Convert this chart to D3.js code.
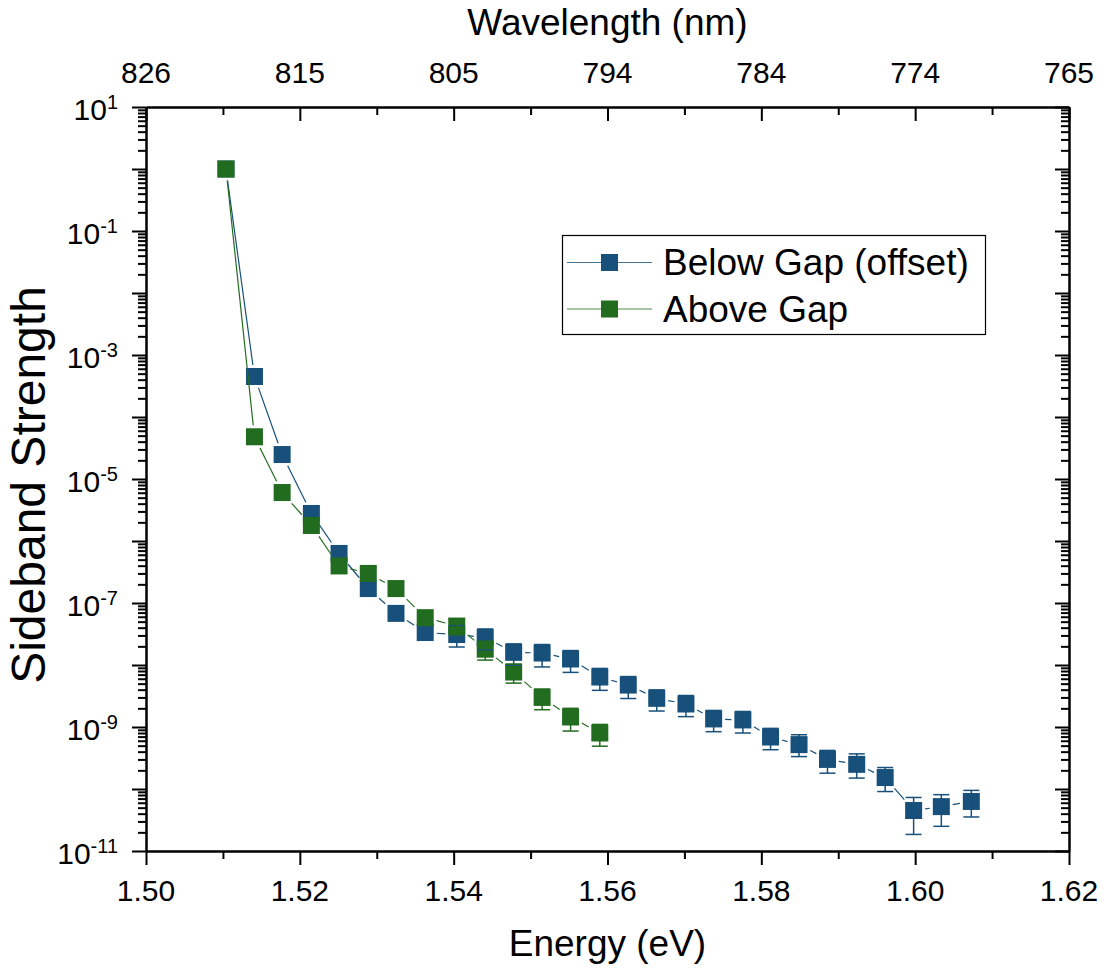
<!DOCTYPE html>
<html><head><meta charset="utf-8">
<script src="https://cdn.jsdelivr.net/npm/d3@7"></script>
<style>
body{margin:0;background:#fff}
svg{display:block}
text{font-family:"Liberation Sans",Arial,Helvetica,sans-serif;fill:#000}
</style>
</head><body>
<svg id="c" width="1112" height="970"></svg>
<script>
// ---------- data ----------
const energy = [1.5104,1.5141,1.5177,1.5215,1.5251,1.5289,1.5325,1.5363,1.5404,1.5441,1.5478,1.5515,1.5552,1.5590,
                1.5627,1.5664,1.5702,1.5738,1.5776,1.5812,1.5849,1.5886,1.5924,1.5961,1.5998,1.6034,1.6073];
const belowGap = [1.0,4.5e-4,2.48e-5,2.78e-6,6.3e-7,1.71e-7,6.8e-8,3.34e-8,3.1e-8,2.78e-8,1.6e-8,1.56e-8,1.25e-8,6.4e-9,
                  4.75e-9,2.9e-9,2.35e-9,1.35e-9,1.3e-9,6.9e-10,5.2e-10,3.0e-10,2.5e-10,1.53e-10,4.5e-11,5.2e-11,6.3e-11];
const belowErrPlus = [null,null,null,null,null,null,null,null,1.23e-8,1.03e-8,5.9e-9,5.8e-9,4.6e-9,2.4e-9,
                      1.76e-9,1.07e-9,8.7e-10,5.0e-10,4.8e-10,2.6e-10,2.3e-10,1.19e-10,1.19e-10,6.9e-11,2.8e-11,2.9e-11,3.2e-11];
const belowErrMinus = [null,null,null,null,null,null,null,null,1.15e-8,1.03e-8,6.1e-9,6.3e-9,4.9e-9,2.5e-9,
                       1.87e-9,1.09e-9,8.8e-10,5.1e-10,5.0e-10,2.6e-10,1.87e-10,1.2e-10,1.0e-10,6.2e-11,2.65e-11,2.7e-11,2.76e-11];
const aboveGap = [1.0,4.8e-5,6.05e-6,1.78e-6,3.96e-7,3.0e-7,1.71e-7,5.8e-8,4.25e-8,1.8e-8,7.7e-9,3.0e-9,1.45e-9,8.0e-10];
const aboveErrPlus = [null,null,null,null,null,null,null,null,1.26e-8,6.0e-9,2.6e-9,1.1e-9,5.5e-10,3.0e-10];
const aboveErrMinus = [null,null,null,null,null,null,null,null,1.2e-8,6.0e-9,2.6e-9,1.1e-9,5.9e-10,3.1e-10];

const xMajorTicks = [1.50,1.52,1.54,1.56,1.58,1.60,1.62];
const xMinorTicks = [1.51,1.53,1.55,1.57,1.59,1.61];
const xTickLabels = ["1.50","1.52","1.54","1.56","1.58","1.60","1.62"];
const wavelengthTickLabels = ["826","815","805","794","784","774","765"];
const yLabelExponents = [1,-1,-3,-5,-7,-9,-11];
const seriesNames = ["Below Gap (offset)","Above Gap"];
const seriesColors = ["#17507a","#226c1f"];
const xTitle = "Energy (eV)";
const x2Title = "Wavelength (nm)";
const yTitle = "Sideband Strength";

// ---------- layout ----------
const L = 146, R = 1069, T = 107, B = 851;
const svg = d3.select("#c");
const x = d3.scaleLinear().domain([1.50,1.62]).range([L,R]);
const y = d3.scaleLog().domain([1e-11,1e1]).range([B,T]);

const decades = d3.range(-11,2).map(e => Math.pow(10,e));
const minorY = [];
for (let e=-11; e<1; e++) for (let k=2;k<=9;k++) minorY.push(k*Math.pow(10,e));

function styleAxis(g){
  g.selectAll("path.domain").attr("stroke","#000").attr("stroke-width",2);
  g.selectAll(".tick line").attr("stroke","#000").attr("stroke-width",2);
  g.selectAll(".tick text").remove();
}

// bottom axis (outward ticks)
svg.append("g").attr("transform",`translate(0,${B})`)
  .call(d3.axisBottom(x).tickValues(xMajorTicks).tickSize(14).tickSizeOuter(0).tickFormat("")).call(styleAxis);
svg.append("g").attr("transform",`translate(0,${B})`)
  .call(d3.axisBottom(x).tickValues(xMinorTicks).tickSize(8).tickSizeOuter(0).tickFormat("")).call(styleAxis);
// top axis (inward ticks)
svg.append("g").attr("transform",`translate(0,${T})`)
  .call(d3.axisTop(x).tickValues(xMajorTicks).tickSize(-14).tickSizeOuter(0).tickFormat("")).call(styleAxis);
svg.append("g").attr("transform",`translate(0,${T})`)
  .call(d3.axisTop(x).tickValues(xMinorTicks).tickSize(-8).tickSizeOuter(0).tickFormat("")).call(styleAxis);
// left axis (outward)
svg.append("g").attr("transform",`translate(${L},0)`)
  .call(d3.axisLeft(y).tickValues(decades).tickSize(14).tickSizeOuter(0).tickFormat("")).call(styleAxis);
svg.append("g").attr("transform",`translate(${L},0)`)
  .call(d3.axisLeft(y).tickValues(minorY).tickSize(8).tickSizeOuter(0).tickFormat("")).call(styleAxis);
// right axis (inward)
svg.append("g").attr("transform",`translate(${R},0)`)
  .call(d3.axisRight(y).tickValues(decades).tickSize(-14).tickSizeOuter(0).tickFormat("")).call(styleAxis);
svg.append("g").attr("transform",`translate(${R},0)`)
  .call(d3.axisRight(y).tickValues(minorY).tickSize(-8).tickSizeOuter(0).tickFormat("")).call(styleAxis);

// tick labels
svg.append("g").selectAll("text").data(xMajorTicks).join("text")
  .attr("x",d=>x(d)).attr("y",B+50).attr("text-anchor","middle").attr("font-size",30)
  .text((d,i)=>xTickLabels[i]);
svg.append("g").selectAll("text").data(xMajorTicks).join("text")
  .attr("x",d=>x(d)).attr("y",T-24).attr("text-anchor","middle").attr("font-size",30)
  .text((d,i)=>wavelengthTickLabels[i]);
const yl = svg.append("g").selectAll("text").data(yLabelExponents).join("text")
  .attr("x",118).attr("y",d=>y(Math.pow(10,d))+13).attr("text-anchor","end").attr("font-size",30);
yl.append("tspan").text("10");
yl.append("tspan").attr("font-size",20).attr("dy",-11).text(d=>String(d));

// titles
svg.append("text").attr("x",(L+R)/2).attr("y",956).attr("text-anchor","middle").attr("font-size",37).text(xTitle);
svg.append("text").attr("x",(L+R)/2).attr("y",35).attr("text-anchor","middle").attr("font-size",37).text(x2Title);
svg.append("text").attr("transform",`translate(45,485) rotate(-90)`).attr("text-anchor","middle").attr("font-size",48).text(yTitle);

// ---------- series ----------
const H = 8.5, GAP = 3;
function gappedSegments(pts){
  const segs = [];
  for (let i=0;i<pts.length-1;i++){
    const [x0,y0]=pts[i],[x1,y1]=pts[i+1];
    const dx=x1-x0, dy=y1-y0, len=Math.hypot(dx,dy);
    const ux=dx/len, uy=dy/len;
    const edge = H/Math.max(Math.abs(ux),Math.abs(uy)) + GAP;
    if (len > 2*edge) segs.push([x0+ux*edge,y0+uy*edge,x1-ux*edge,y1-uy*edge]);
  }
  return segs;
}
const series = [
  {vals:belowGap, ep:belowErrPlus, em:belowErrMinus, color:seriesColors[0]},
  {vals:aboveGap, ep:aboveErrPlus, em:aboveErrMinus, color:seriesColors[1]}
];
series.forEach(s=>{
  const pts = s.vals.map((v,i)=>[x(energy[i]),y(v)]);
  const g = svg.append("g");
  g.selectAll("line").data(gappedSegments(pts)).join("line")
    .attr("x1",d=>d[0]).attr("y1",d=>d[1]).attr("x2",d=>d[2]).attr("y2",d=>d[3])
    .attr("stroke",s.color).attr("stroke-width",1.2);
  g.selectAll("rect").data(pts).join("rect")
    .attr("x",d=>d[0]-H).attr("y",d=>d[1]-H).attr("width",2*H).attr("height",2*H).attr("fill",s.color);
});
series.forEach(s=>{
  const g = svg.append("g").attr("stroke",s.color).attr("stroke-width",1.5);
  s.vals.forEach((v,i)=>{
    if (s.ep[i]==null) return;
    const cx = x(energy[i]), yt = y(v+s.ep[i]), yb = y(v-s.em[i]);
    g.append("line").attr("x1",cx).attr("x2",cx).attr("y1",yt).attr("y2",yb);
    g.append("line").attr("x1",cx-8).attr("x2",cx+8).attr("y1",yt).attr("y2",yt);
    g.append("line").attr("x1",cx-8).attr("x2",cx+8).attr("y1",yb).attr("y2",yb);
  });
});

// ---------- legend ----------
const lg = svg.append("g");
lg.append("rect").attr("x",562.5).attr("y",235.5).attr("width",423).attr("height",99)
  .attr("fill","#fff").attr("stroke","#000").attr("stroke-width",1.2);
const rowsY = [262.5,309];
seriesNames.forEach((name,i)=>{
  const cy = rowsY[i];
  lg.append("line").attr("x1",567).attr("x2",652).attr("y1",cy).attr("y2",cy)
    .attr("stroke",seriesColors[i]).attr("stroke-width",1.2).attr("stroke-opacity",0.8);
  lg.append("rect").attr("x",609.5-H).attr("y",cy-H).attr("width",2*H).attr("height",2*H).attr("fill",seriesColors[i]);
  lg.append("text").attr("x",663).attr("y",cy+12.5).attr("font-size",37).text(name);
});
</script>
</body></html>
